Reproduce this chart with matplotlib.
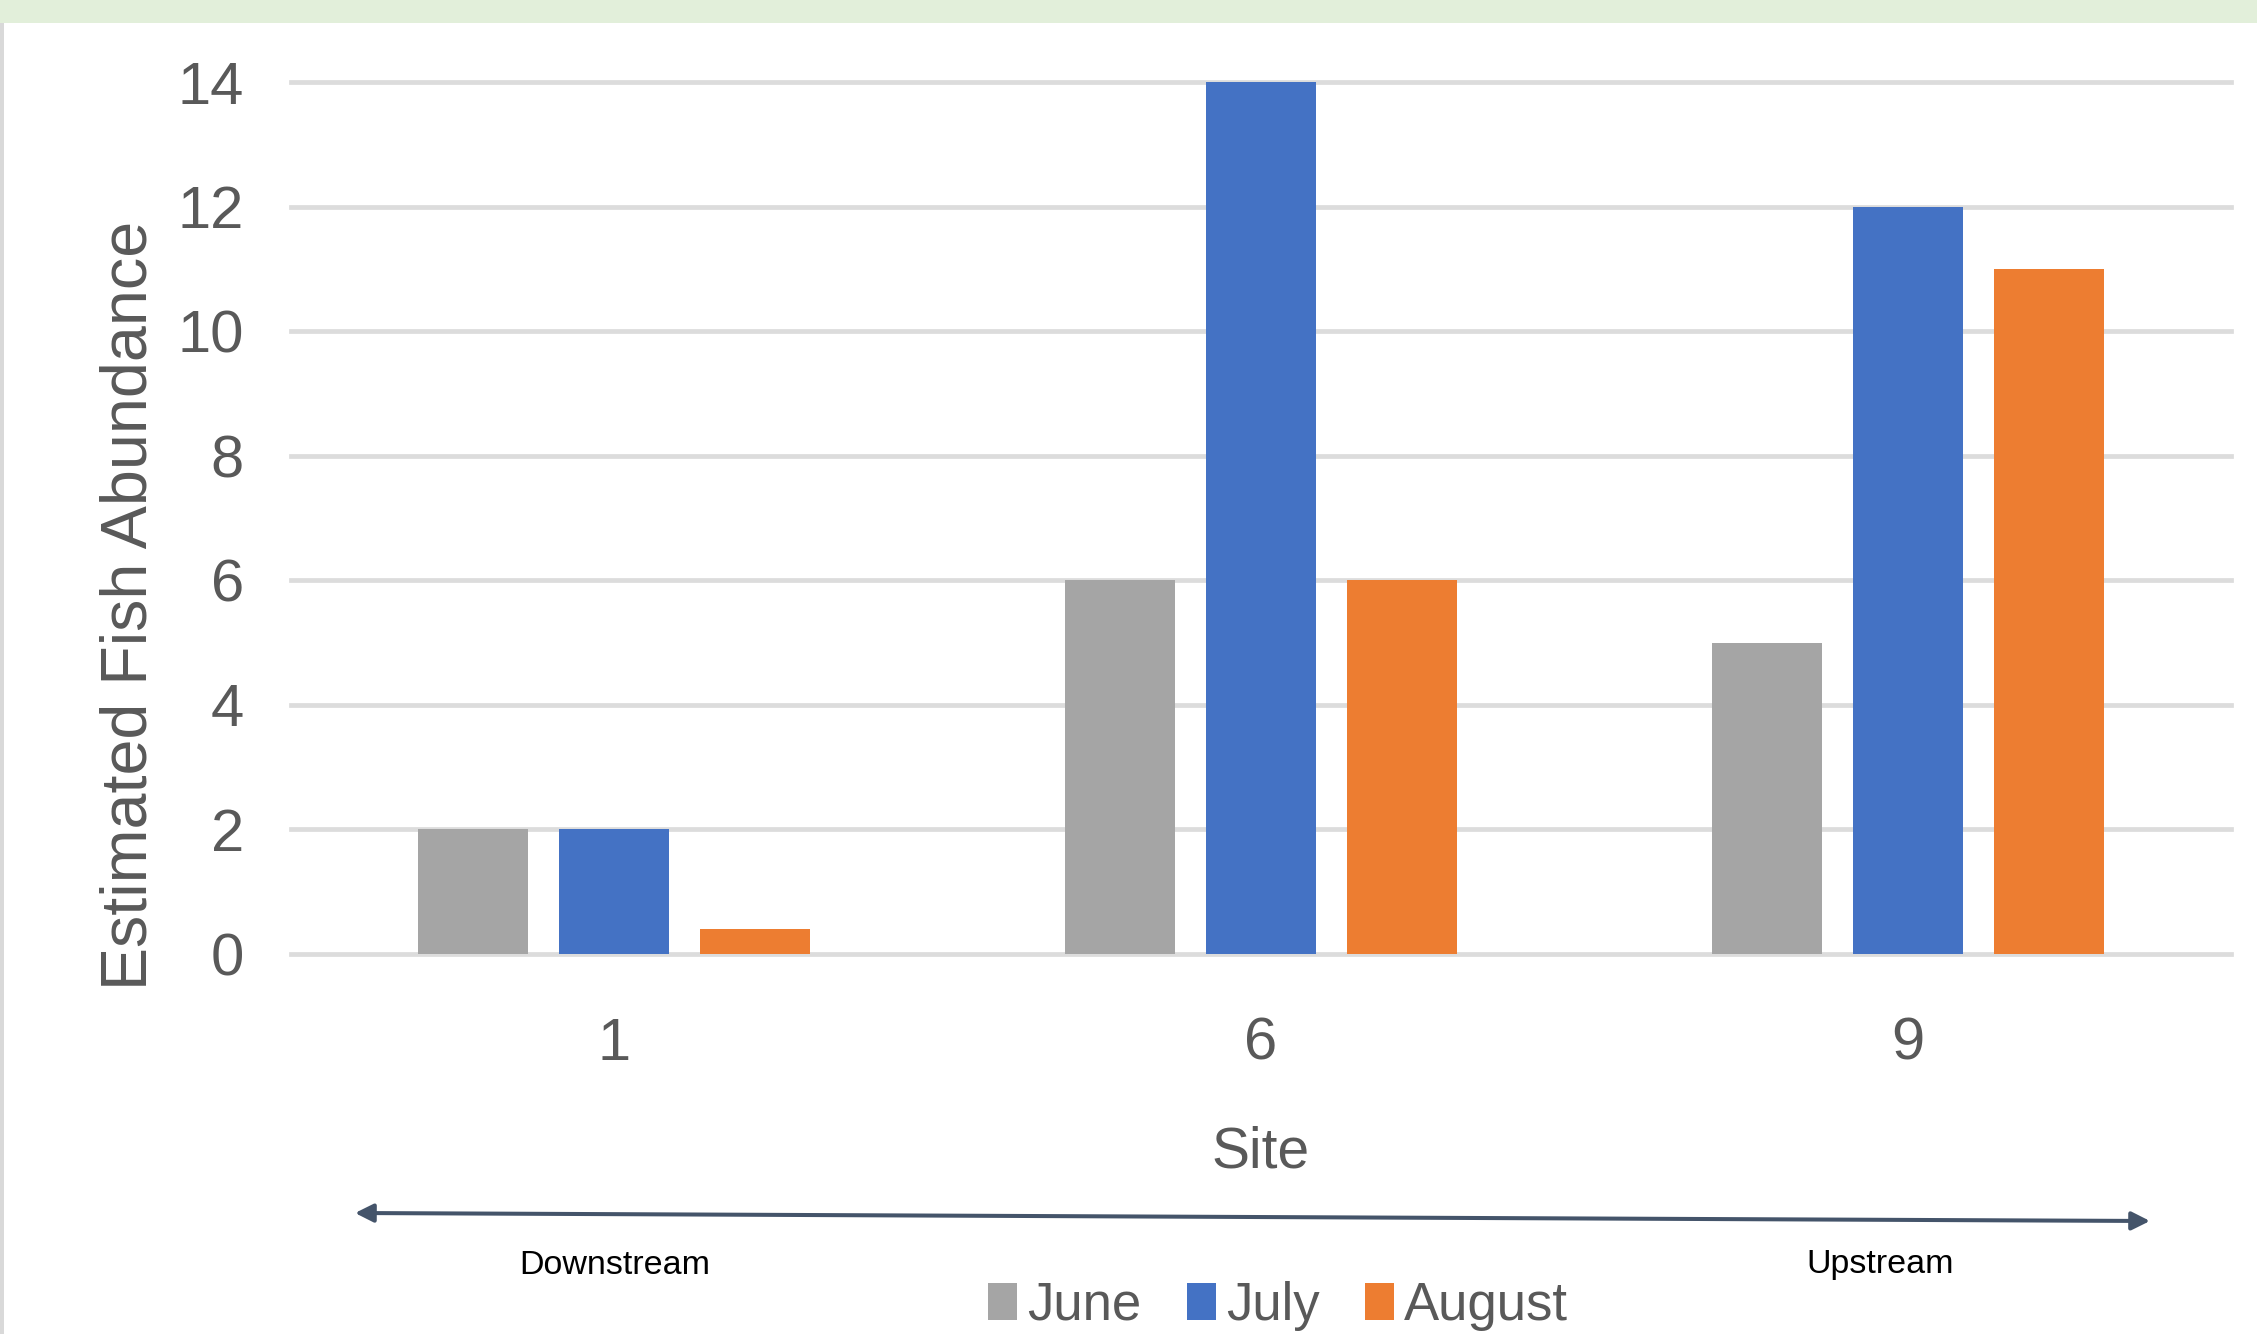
import matplotlib
matplotlib.use("Agg")
import matplotlib.pyplot as plt
import numpy as np
from matplotlib.patches import Rectangle, FancyArrowPatch

plt.rcParams['font.family'] = ['Liberation Sans', 'DejaVu Sans']

sites = ['1', '6', '9']
months = ['June', 'July', 'August']
june = [2, 6, 5]
july = [2, 14, 12]
august = [0.4, 6, 11]
colors = ['#A5A5A5', '#4472C4', '#ED7D31']
yticks = [0, 2, 4, 6, 8, 10, 12, 14]

W, H = 2257, 1334
fig = plt.figure(figsize=(W / 100, H / 100), dpi=100)

# frame decorations
fig.patches.append(Rectangle((0, 1 - 23 / H), 1, 23 / H, transform=fig.transFigure,
                             facecolor='#E2EFDA', edgecolor='none', zorder=0))
fig.patches.append(Rectangle((0, 0), 4 / W, 1 - 23 / H, transform=fig.transFigure,
                             facecolor='#D9D9D9', edgecolor='none', zorder=0))

left, right = 291, 2231
top, bottom = 82, 954
ax = fig.add_axes([left / W, 1 - bottom / H, (right - left) / W, (bottom - top) / H])

x = np.arange(len(sites))
offset = 0.218
width = 0.17
for i, (vals, c, m) in enumerate(zip([june, july, august], colors, months)):
    ax.bar(x + (i - 1) * offset, vals, width=width, color=c, label=m, zorder=2)

ax.set_xlim(-0.5, 2.5)
ax.set_ylim(0, 14)
ax.set_yticks(yticks)
ax.set_yticklabels([str(t) for t in yticks])
ax.set_xticks(x)
ax.set_xticklabels(sites)
ax.tick_params(axis='y', length=0, pad=34, labelsize=43, labelcolor='#595959')
ax.tick_params(axis='x', length=0, pad=45, labelsize=43, labelcolor='#595959')
for s in ax.spines.values():
    s.set_visible(False)
ax.set_axisbelow(True)
ax.yaxis.grid(True, color='#DCDCDC', linewidth=3.4)
for gl in ax.get_ygridlines():
    gl.set_clip_on(False)

ax.set_ylabel('Estimated Fish Abundance', fontsize=46.5, color='#595959', va='center')
ax.yaxis.set_label_coords((129 - left) / (right - left), (bottom - 605) / (bottom - top))
ax.set_xlabel('Site', fontsize=41, color='#595959', va='center')
ax.xaxis.set_label_coords(0.5, (bottom - 1152) / (bottom - top))

# direction arrow
arrow = FancyArrowPatch((355 / W, 1 - 1213 / H), (2150 / W, 1 - 1221 / H),
                        transform=fig.transFigure,
                        arrowstyle='<|-|>,head_length=0.5,head_width=0.25',
                        mutation_scale=22, color='#44546A', linewidth=2.9,
                        shrinkA=0, shrinkB=0)
fig.patches.append(arrow)

fig.text(615 / W, 1 - 1265 / H, 'Downstream', fontsize=24.5, color='black', ha='center', va='center')
fig.text(1880 / W, 1 - 1265 / H, 'Upstream', fontsize=24.5, color='black', ha='center', va='center')

handles, labels = ax.get_legend_handles_labels()
fig.legend(handles, labels, loc='center', bbox_to_anchor=(1278 / W, 1 - 1306 / H),
           ncol=3, frameon=False, fontsize=38, labelcolor='#595959',
           handlelength=0.55, handleheight=0.72, handletextpad=0.2,
           columnspacing=0.85, borderpad=0, borderaxespad=0)

fig.savefig('out.png', dpi=100, facecolor='white')
